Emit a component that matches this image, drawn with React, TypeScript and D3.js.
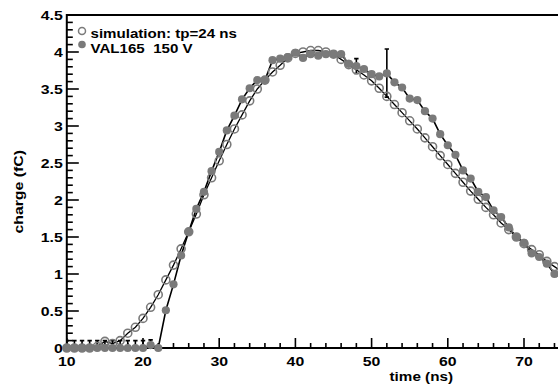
import React from 'react';
import * as d3 from 'd3';

// time axis (ns), one sample per ns
const times = [
  10, 11, 12, 13, 14, 15, 16, 17, 18, 19, 20, 21, 22, 23, 24, 25, 26, 27, 28, 29,
  30, 31, 32, 33, 34, 35, 36, 37, 38, 39, 40, 41, 42, 43, 44, 45, 46, 47, 48, 49,
  50, 51, 52, 53, 54, 55, 56, 57, 58, 59, 60, 61, 62, 63, 64, 65, 66, 67, 68, 69,
  70, 71, 72, 73, 74, 75,
];

// simulation: tp=24 ns
const simCharge = [
  0, 0, 0, 0, 0.02, 0.09, 0.06, 0.1, 0.2, 0.28, 0.4, 0.55, 0.72, 0.92, 1.12, 1.34, 1.57, 1.81, 2.07, 2.3,
  2.53, 2.75, 2.96, 3.15, 3.34, 3.5, 3.62, 3.73, 3.82, 3.92, 3.98, 4.0, 4.02, 4.02, 4.0, 3.97, 3.9, 3.83, 3.76, 3.69,
  3.61, 3.51, 3.4, 3.29, 3.18, 3.07, 2.96, 2.84, 2.72, 2.6, 2.48, 2.36, 2.24, 2.12, 2.01, 1.9, 1.8, 1.69, 1.6, 1.5,
  1.41, 1.33, 1.26, 1.17, 1.1, 1.03,
];

// VAL165 150 V measurement
const dataCharge = [
  0, 0, 0, 0, 0, 0, 0, 0, 0, 0, 0, 0.04, 0, 0.51, 0.86, 1.25, 1.57, 1.88, 2.11, 2.39,
  2.65, 2.94, 3.14, 3.36, 3.51, 3.62, 3.62, 3.89, 3.91, 3.93, 3.99, 3.92, 3.97, 3.95, 3.97, 3.97, 3.97, 3.84, 3.81, 3.77,
  3.7, 3.67, 3.71, 3.59, 3.52, 3.37, 3.35, 3.2, 3.1, 2.89, 2.74, 2.61, 2.4, 2.29, 2.11, 2.04, 1.86, 1.77, 1.63, 1.5,
  1.42, 1.28, 1.23, 1.14, 1.0, 0.95,
];

// visible error bars on the measurement
const errTime = [10, 11, 12, 13, 14, 15, 16, 17, 18, 19, 20, 21, 48, 52];
const errLow = [0, 0, 0, 0, 0, 0, 0, 0, 0, 0, 0, 0, 3.71, 3.39];
const errHigh = [0.1, 0.1, 0.1, 0.1, 0.1, 0.1, 0.1, 0.1, 0.1, 0.1, 0.1, 0.11, 3.91, 4.04];

const xTickLabels = [10, 20, 30, 40, 50, 60, 70];
const yTickLabels = [0, 0.5, 1, 1.5, 2, 2.5, 3, 3.5, 4, 4.5];

const legendLabels = ['simulation: tp=24 ns', 'VAL165\u00a0\u00a0150 V'];

const FONT = '"Liberation Sans", Arial, Helvetica, sans-serif';
const GREY = '#7a7a7a';

export default function App() {
  const width = 558;
  const height = 384;

  const x = d3.scaleLinear().domain([10, 75]).range([66.8, 562.1]);
  const y = d3.scaleLinear().domain([0, 4.5]).range([348, 15]);

  const simPts = times.map((t, i) => [t, simCharge[i]] as [number, number]);
  const dataPts = times.map((t, i) => [t, dataCharge[i]] as [number, number]);

  const line = d3.line<[number, number]>()
    .x(d => x(d[0]))
    .y(d => y(d[1]));

  const xMinor = d3.range(10, 76, 2);
  const yMinor = d3.range(0, 4.51, 0.1);

  const x0 = x(10);
  const yBottom = y(0);
  const yTop = y(4.5);

  return (
    <svg
      width={width}
      height={height}
      style={{ position: 'absolute', left: 0, top: 0, background: '#fff' }}
      fontFamily={FONT}
      fontWeight="bold"
    >
      <defs>
        <clipPath id="plotClip">
          <rect x={x0} y={yTop} width={width - x0} height={yBottom - yTop} />
        </clipPath>
      </defs>

      {/* frame */}
      <line x1={x0} x2={width} y1={yTop} y2={yTop} stroke="#000" strokeWidth={2} />
      <line x1={x0} x2={x0} y1={yTop - 1} y2={yBottom + 1} stroke="#000" strokeWidth={2} />
      <line x1={x0 - 1} x2={width} y1={yBottom} y2={yBottom} stroke="#000" strokeWidth={2} />

      {/* x ticks */}
      {xMinor.map(t => (
        <line key={'xm' + t} x1={x(t)} x2={x(t)} y1={yBottom}
          y2={yBottom - (t % 10 === 0 ? 10 : 5)} stroke="#000" strokeWidth={1.6} />
      ))}
      {xTickLabels.map(t => (
        <text key={'xl' + t} transform={`translate(${x(t)},${yBottom + 18}) scale(1.22,1)`}
          textAnchor="middle" fontSize={13}>{t}</text>
      ))}

      {/* y ticks */}
      {yMinor.map((v, i) => (
        <line key={'ym' + i} x1={x0} x2={x0 + (i % 5 === 0 ? 12 : 6)} y1={y(v)} y2={y(v)}
          stroke="#000" strokeWidth={1.6} />
      ))}
      {yTickLabels.map(v => (
        <text key={'yl' + v} transform={`translate(${x0 - 4},${y(v) + 5}) scale(1.22,1)`}
          textAnchor="end" fontSize={13}>{v}</text>
      ))}

      {/* error bars (under the markers) */}
      <g clipPath="url(#plotClip)" stroke="#000" strokeWidth={1.6}>
        {errTime.map((t, i) => (
          <g key={'e' + i}>
            <line x1={x(t)} x2={x(t)} y1={y(errLow[i])} y2={y(errHigh[i])} />
            <line x1={x(t) - 2.2} x2={x(t) + 2.2} y1={y(errHigh[i])} y2={y(errHigh[i])} />
            <line x1={x(t) - 2.2} x2={x(t) + 2.2} y1={y(errLow[i])} y2={y(errLow[i])} />
          </g>
        ))}
      </g>

      {/* lines */}
      <path d={line(dataPts) || ''} fill="none" stroke="#000" strokeWidth={1.6} />
      <path d={line(simPts) || ''} fill="none" stroke="#000" strokeWidth={1.3} />

      {/* measurement markers */}
      {dataPts.map((d, i) => (
        <circle key={'d' + i} cx={x(d[0])} cy={y(d[1])} r={4.1} fill={GREY} />
      ))}

      {/* simulation markers */}
      {simPts.map((d, i) => (
        <circle key={'s' + i} cx={x(d[0])} cy={y(d[1])} r={4} fill="none" stroke={GREY} strokeWidth={1.6} />
      ))}

      {/* axis titles */}
      <text transform={`translate(453,381) scale(1.27,1)`} textAnchor="end" fontSize={12}>time (ns)</text>
      <text transform={`translate(22.5,150) rotate(-90) scale(1.32,1)`} textAnchor="end" fontSize={12}>charge (fC)</text>

      {/* legend */}
      <circle cx={82} cy={31} r={3.5} fill="none" stroke={GREY} strokeWidth={1.5} />
      <circle cx={82} cy={44.5} r={3.8} fill={GREY} />
      {legendLabels.map((l, i) => (
        <text key={'lg' + i} transform={`translate(90.5,${37.5 + i * 15.8}) scale(1.26,1)`}
          fontSize={12}>{l}</text>
      ))}
    </svg>
  );
}
